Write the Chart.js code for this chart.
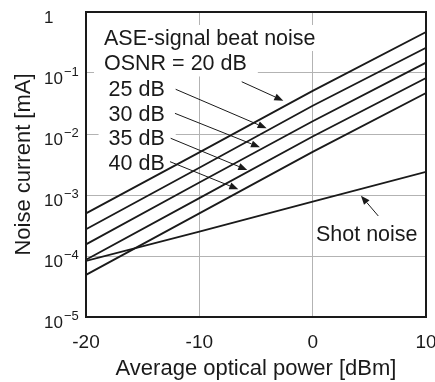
<!DOCTYPE html>
<html lang="en">
<head>
    <meta charset="UTF-8">
    <title>Noise current vs optical power</title>
    <script src="https://cdn.jsdelivr.net/npm/chart.js"></script>
    <style>
        body { margin: 0; background: #fff; }
        #wrap { width: 435px; height: 382px; }
    </style>
</head>
<body>
    <div id="wrap"><canvas id="noiseChart" width="435" height="382"></canvas></div>
    <script>
        // power axis [dBm]
        const power = [-20, -10, 0, 10];
        // ASE-signal beat noise [mA], per OSNR
        const osnr20 = [5.0e-4, 5.0e-3, 5.1e-2, 0.47];
        const osnr25 = [2.75e-4, 2.8e-3, 2.9e-2, 0.26];
        const osnr30 = [1.55e-4, 1.6e-3, 1.62e-2, 0.148];
        const osnr35 = [8.7e-5, 8.9e-4, 9.1e-3, 8.3e-2];
        const osnr40 = [4.9e-5, 5.0e-4, 5.1e-3, 4.7e-2];
        // shot noise [mA]
        const shot = [8.3e-5, 2.5e-4, 7.8e-4, 2.4e-3];

        const yTickValues = [1, 1e-1, 1e-2, 1e-3, 1e-4, 1e-5];
        const yTickBase = ['1', '10', '10', '10', '10', '10'];
        const yTickSup = ['', '\u22121', '\u22122', '\u22123', '\u22124', '\u22125'];

        // labels and arrows, in data units (dBm, mA)
        const notes = [
            { text: 'ASE-signal beat noise', x: -18.41, y: 0.288, box: true },
            { text: 'OSNR = 20 dB', x: -18.41, y: 0.110, box: true },
            { text: '25 dB', x: -18.01, y: 0.0412, box: true },
            { text: '30 dB', x: -18.01, y: 0.0163, box: true },
            { text: '35 dB', x: -18.01, y: 0.00648, box: true },
            { text: '40 dB', x: -18.01, y: 0.00257, box: true },
            { text: 'Shot noise', x: 0.29, y: 1.76e-4, box: false }
        ];
        const arrows = [
            { from: [-6.26, 0.0719], to: [-2.59, 0.0352] },
            { from: [-12.09, 0.0541], to: [-4.06, 0.0124] },
            { from: [-12.15, 0.0218], to: [-4.65, 0.00605] },
            { from: [-12.53, 0.00851], to: [-5.77, 0.00257] },
            { from: [-12.59, 0.00352], to: [-6.56, 0.00124] },
            { from: [5.79, 4.53e-4], to: [4.26, 9.75e-4] }
        ];

        const FONT = "'Liberation Sans', Arial, sans-serif";
        const INK = '#1a1a1a';
        const isDecade = v => Math.abs(Math.log10(v) - Math.round(Math.log10(v))) < 1e-6;

        function series(vals) {
            return {
                data: power.map((x, i) => ({ x: x, y: vals[i] })),
                borderColor: INK,
                borderWidth: 1.8,
                pointRadius: 0,
                tension: 0,
                fill: false
            };
        }

        const decorations = {
            id: 'decorations',
            beforeDatasetsDraw(chart) {
                const { ctx, scales: { x, y } } = chart;
                ctx.save();
                ctx.font = '21.5px ' + FONT;
                ctx.fillStyle = '#fff';
                notes.forEach(n => {
                    if (!n.box) return;
                    const px = x.getPixelForValue(n.x);
                    const py = y.getPixelForValue(n.y);
                    const w = ctx.measureText(n.text).width;
                    ctx.fillRect(px - 10, py - 20, w + 21, 26);
                });
                ctx.restore();
            },
            afterDatasetsDraw(chart) {
                const { ctx, chartArea: a, scales: { x, y } } = chart;
                ctx.save();
                // frame
                ctx.strokeStyle = INK;
                ctx.lineWidth = 2;
                ctx.strokeRect(a.left, a.top, a.right - a.left, a.bottom - a.top);

                // notes
                ctx.fillStyle = INK;
                ctx.font = '21.5px ' + FONT;
                ctx.textBaseline = 'alphabetic';
                ctx.textAlign = 'left';
                notes.forEach(n => {
                    ctx.fillText(n.text, x.getPixelForValue(n.x), y.getPixelForValue(n.y));
                });

                // arrows
                ctx.lineWidth = 1;
                ctx.strokeStyle = INK;
                arrows.forEach(ar => {
                    const x0 = x.getPixelForValue(ar.from[0]), y0 = y.getPixelForValue(ar.from[1]);
                    const x1 = x.getPixelForValue(ar.to[0]), y1 = y.getPixelForValue(ar.to[1]);
                    const ang = Math.atan2(y1 - y0, x1 - x0);
                    const len = 9, hw = 3.6;
                    const bx = x1 - len * Math.cos(ang), by = y1 - len * Math.sin(ang);
                    ctx.beginPath();
                    ctx.moveTo(x0, y0);
                    ctx.lineTo(bx, by);
                    ctx.stroke();
                    ctx.beginPath();
                    ctx.moveTo(x1, y1);
                    ctx.lineTo(bx + hw * Math.sin(ang), by - hw * Math.cos(ang));
                    ctx.lineTo(bx - hw * Math.sin(ang), by + hw * Math.cos(ang));
                    ctx.closePath();
                    ctx.fill();
                });

                // y tick labels with superscripts
                yTickValues.forEach((v, i) => {
                    const py = y.getPixelForValue(v);
                    ctx.font = '17px ' + FONT;
                    ctx.fillText(yTickBase[i], 44, py + 10.5);
                    if (yTickSup[i]) {
                        const w = ctx.measureText(yTickBase[i]).width;
                        ctx.font = '13px ' + FONT;
                        ctx.fillText(yTickSup[i], 44 + w + 1, py + 3);
                    }
                });
                ctx.restore();
            }
        };

        const ctx = document.getElementById('noiseChart').getContext('2d');
        const noiseChart = new Chart(ctx, {
            type: 'line',
            data: {
                datasets: [
                    series(osnr20),
                    series(osnr25),
                    series(osnr30),
                    series(osnr35),
                    series(osnr40),
                    series(shot)
                ]
            },
            options: {
                responsive: false,
                animation: false,
                devicePixelRatio: 1,
                layout: { padding: { top: 12, right: 9, left: 0, bottom: 0 } },
                plugins: {
                    legend: { display: false },
                    tooltip: { enabled: false }
                },
                scales: {
                    x: {
                        type: 'linear',
                        min: -20,
                        max: 10,
                        border: { display: false },
                        grid: { color: '#b3b3b3', lineWidth: 1, drawTicks: false },
                        ticks: {
                            stepSize: 10,
                            padding: 14,
                            color: INK,
                            font: { family: FONT, size: 19 }
                        },
                        title: {
                            display: true,
                            text: 'Average optical power [dBm]',
                            color: INK,
                            font: { family: FONT, size: 22 },
                            padding: { top: 2, bottom: 0 }
                        },
                        afterFit(s) {
                            s.height = 65;
                            s.paddingLeft = 0;
                            s.paddingRight = 0;
                        }
                    },
                    y: {
                        type: 'logarithmic',
                        min: 1e-5,
                        max: 1,
                        border: { display: false },
                        grid: {
                            color: c => (c.tick && isDecade(c.tick.value)) ? '#b3b3b3' : 'rgba(0,0,0,0)',
                            lineWidth: 1,
                            drawTicks: false
                        },
                        ticks: { display: false, autoSkip: false },
                        title: {
                            display: true,
                            text: 'Noise current [mA]',
                            color: INK,
                            font: { family: FONT, size: 22 },
                            padding: { top: 11, bottom: 0 }
                        },
                        afterFit(s) {
                            s.width = 86;
                            s.paddingTop = 0;
                            s.paddingBottom = 0;
                        }
                    }
                }
            },
            plugins: [decorations]
        });
    </script>
</body>
</html>
